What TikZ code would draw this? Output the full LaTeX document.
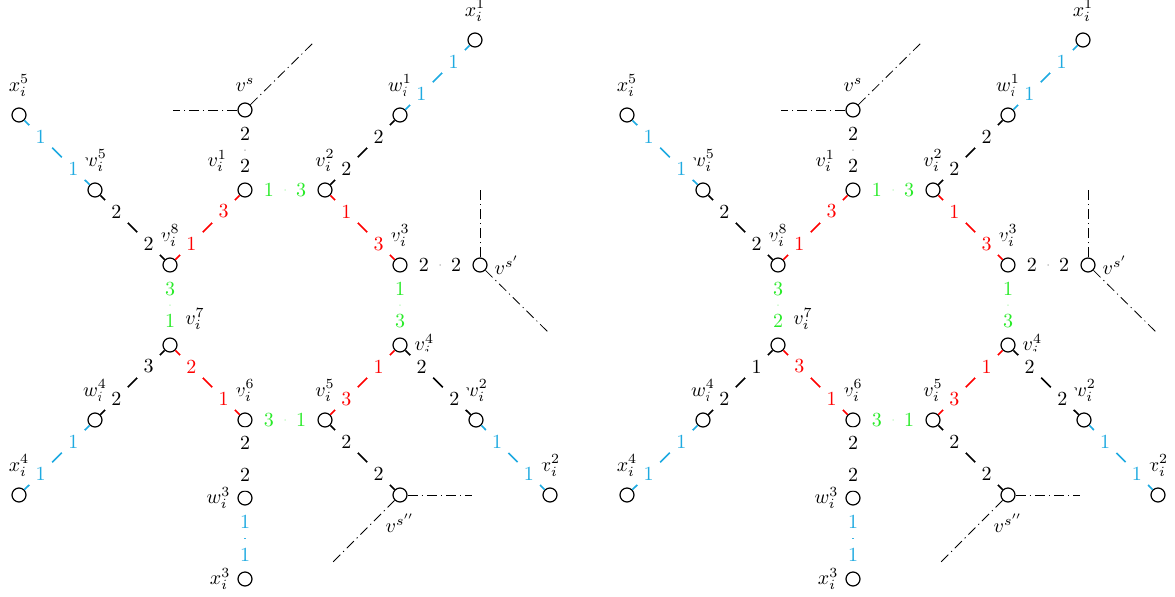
\documentclass[tikz,border=0pt]{standalone}
\usetikzlibrary{positioning}
\definecolor{red}{RGB}{255,0,0}
\definecolor{blue}{RGB}{30,170,225}
\definecolor{green}{RGB}{40,235,40}

\begin{document}
\begin{tikzpicture}[x=0.5pt, y=-0.5pt,
    vtx/.style={circle,
        draw,
        semithick,
        minimum size=7pt,
        inner sep=0pt,
        },
    num/.style={circle,
        fill=white,
        minimum size=16pt,
        inner sep=0pt,
        },
    e_black/.style={thick},
    e_red/.style={thick, color=red},
    e_green/.style={thick, color=green},
    e_blue/.style={thick, color=blue},
    dd/.style={thin, dash pattern=on 5pt off 2pt on 0.6pt off 2pt},
    every label/.style={label distance=2pt},
    ]
    \useasboundingbox (0,0) rectangle (1175,596);

    \foreach \g/\dx/\ra/\ga/\ka in {L/0/2/1/3, R/608/3/2/1} {
    \begin{scope}[shift={(\dx,0)}]
    % outer ring
    \node[vtx, label=above:{$x_i^5$}] (x5\g) at (19,115) {};
    \node[vtx, label=above:{$w_i^5$}] (w5\g) at (95,190) {};
    \node[vtx, label=above:{$w_i^1$}] (w1\g) at (400,115) {};
    \node[vtx, label=above:{$x_i^1$}] (x1\g) at (475,40) {};
    \node[vtx, label=above:{$w_i^2$}] (w2\g) at (476,420) {};
    \node[vtx, label=above:{$x_i^2$}] (x2\g) at (550,495) {};
    \node[vtx, label={[label distance=0pt]left:{$w_i^3$}}] (w3\g) at (245,498) {};
    \node[vtx, label={[label distance=0pt]left:{$x_i^3$}}] (x3\g) at (245,579) {};
    \node[vtx, label=above:{$w_i^4$}] (w4\g) at (95,420) {};
    \node[vtx, label=above:{$x_i^4$}] (x4\g) at (19,495) {};
    \node[vtx, label=above:{$v^s$}] (vs\g) at (245,110) {};
    \node[vtx, label={[label distance=0pt]right:{$v^{s'}$}}] (vsa\g) at (480,265) {};
    \node[vtx, label=below:{$v^{s''}$}] (vsb\g) at (400,495) {};

    % octagon
    \node[vtx, label={[label distance=4pt]above left:{$v_i^1$}}] (v1\g) at (245,190) {};
    \node[vtx, label=above:{$v_i^2$}] (v2\g) at (325,190) {};
    \node[vtx, label=above:{$v_i^3$}] (v3\g) at (400,265) {};
    \node[vtx, label={[label distance=0pt]right:{$v_i^4$}}] (v4\g) at (400,345) {};
    \node[vtx, label=above:{$v_i^5$}] (v5\g) at (325,420) {};
    \node[vtx, label=above:{$v_i^6$}] (v6\g) at (245,420) {};
    \node[vtx, label={[label distance=2pt]above right:{$v_i^7$}}] (v7\g) at (170,345) {};
    \node[vtx, label=above:{$v_i^8$}] (v8\g) at (170,265) {};

    % loose ends
    \coordinate (vs_l\g) at (173,110);
    \coordinate (vs_r\g) at (313,43);
    \coordinate (vsa_u\g) at (480,190);
    \coordinate (vsa_d\g) at (548,332);
    \coordinate (vsb_r\g) at (472,495);
    \coordinate (vsb_d\g) at (333,562);
    \draw[dd] (vs\g) -- (vs_l\g);
    \draw[dd] (vs\g) -- (vs_r\g);
    \draw[dd] (vsa\g) -- (vsa_u\g);
    \draw[dd] (vsa\g) -- (vsa_d\g);
    \draw[dd] (vsb\g) -- (vsb_r\g);
    \draw[dd] (vsb\g) -- (vsb_d\g);

    % edges
    \draw[e_blue] (x5\g) -- node[num, near start]{1} node[num, near end]{1} (w5\g);
    \draw[e_black] (w5\g) -- node[num, near start]{2} node[num, near end]{2} (v8\g);
    \draw[e_red] (v8\g) -- node[num, near start]{1} node[num, near end]{3} (v1\g);
    \draw[e_black] (vs\g) -- node[num, near start]{2} node[num, near end]{2} (v1\g);
    \draw[e_green] (v1\g) -- node[num, near start]{1} node[num, near end]{3} (v2\g);
    \draw[e_black] (v2\g) -- node[num, near start]{2} node[num, near end]{2} (w1\g);
    \draw[e_blue] (w1\g) -- node[num, near start]{1} node[num, near end]{1} (x1\g);
    \draw[e_red] (v2\g) -- node[num, near start]{1} node[num, near end]{3} (v3\g);
    \draw[e_black] (v3\g) -- node[num, near start]{2} node[num, near end]{2} (vsa\g);
    \draw[e_green] (v3\g) -- node[num, near start]{1} node[num, near end]{3} (v4\g);
    \draw[e_red] (v4\g) -- node[num, near start]{1} node[num, near end]{3} (v5\g);
    \draw[e_black] (v4\g) -- node[num, near start]{2} node[num, near end]{2} (w2\g);
    \draw[e_blue] (w2\g) -- node[num, near start]{1} node[num, near end]{1} (x2\g);
    \draw[e_green] (v5\g) -- node[num, near start]{1} node[num, near end]{3} (v6\g);
    \draw[e_black] (v5\g) -- node[num, near start]{2} node[num, near end]{2} (vsb\g);
    \draw[e_red] (v6\g) -- node[num, near start]{1} node[num, near end]{\ra} (v7\g);
    \draw[e_black] (v6\g) -- node[num, near start]{2} node[num, near end]{2} (w3\g);
    \draw[e_blue] (w3\g) -- node[num, near start]{1} node[num, near end]{1} (x3\g);
    \draw[e_green] (v7\g) -- node[num, near start]{\ga} node[num, near end]{3} (v8\g);
    \draw[e_black] (v7\g) -- node[num, near start]{\ka} node[num, near end]{2} (w4\g);
    \draw[e_blue] (w4\g) -- node[num, near start]{1} node[num, near end]{1} (x4\g);
    \end{scope}
    }
\end{tikzpicture}
\end{document}
